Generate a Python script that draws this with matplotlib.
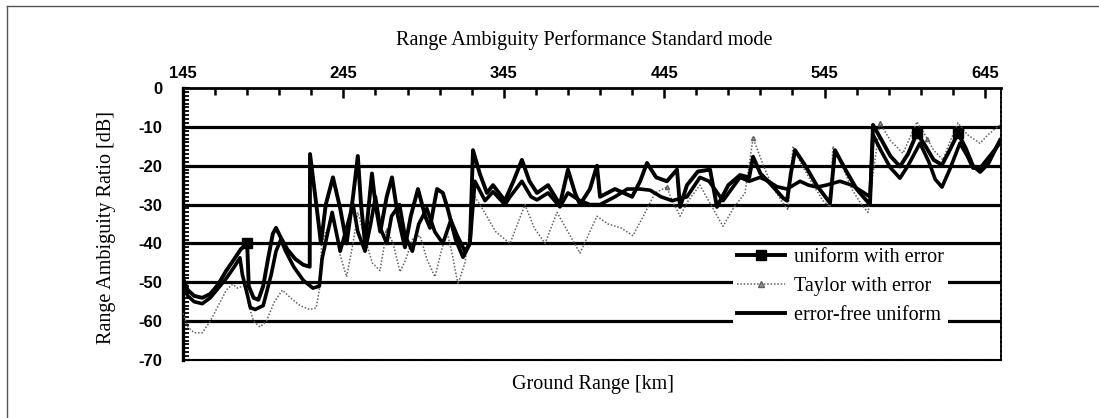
import matplotlib
matplotlib.use("Agg")
import matplotlib.pyplot as plt
from matplotlib.lines import Line2D
from matplotlib.patches import Rectangle
import numpy as np

# ground range [km] / range ambiguity ratio [dB]
ue_km = [145, 148, 152, 157, 162, 167, 172, 177, 181, 185,
         186, 189, 192, 195, 198, 201, 203, 206, 210, 215, 220, 224,
         224.2, 229, 231, 234, 238.5, 243, 247, 251, 254, 256, 258.5, 262.8, 265, 268,
         272, 275.3, 279, 283.4, 287, 291.5, 296, 299, 302, 303.4, 307, 310, 315, 319.6, 323.9,
         325.8, 330, 334.5, 338.3, 345.7, 351, 356.3, 361, 365.7, 372.6, 380, 385, 389.4,
         392.5, 398.7, 403.1, 405, 414.3, 425, 430, 434.3, 440, 446.7, 453, 454.9, 459.2,
         466, 473.6, 477.9, 485, 492.3, 498,
         500.4, 505, 512, 519.1, 521.6, 524, 526.6, 533, 540, 548.4, 551.5, 558, 565, 573.3,
         575.2, 580, 586, 592, 597, 602.6, 608, 613, 618.2, 623, 628.2, 633, 637.5, 642, 647, 654.4]
ue_db = [-49, -52, -53.5, -54, -53, -50.5, -47, -44, -41.5, -40,
         -51, -54, -54.5, -51, -44, -37.5, -36, -38.5, -41.5, -44, -45.5, -46,
         -17, -33, -40, -30, -23, -31, -40, -28, -17.5, -30, -40, -22, -30, -37,
         -28, -23, -33, -41, -33, -26, -33, -36, -29, -26, -27, -31, -39, -43.5, -40,
         -16, -22, -27, -25, -29, -24, -18.5, -24, -27, -25, -30, -21, -27,
         -30, -26, -20, -28, -26, -28, -24, -19.3, -23, -24, -21, -30.6, -25,
         -21.5, -21, -30.6, -25, -22.4, -23,
         -17.7, -22, -25, -28.3, -29, -22, -16, -20, -25, -29.6, -16, -21, -26, -30,
         -9.5, -13, -17.5, -20.2, -17, -11.6, -15, -18.5, -19.8, -16, -11.6, -15.5, -20, -21.6, -19.5, -13.4]

tay_km = [145, 148, 152, 157, 162, 167, 172, 176, 179, 184,
          186, 189, 193, 197, 202, 207, 212, 218, 224, 228,
          230, 231.5, 234, 238.5, 243, 247, 251, 254, 258, 263, 267.8, 272.2, 276, 280.3,
          284, 288, 292.8, 297, 302.1, 306, 309.6, 313, 316.4, 320.8,
          327, 333, 340, 348.9, 358.2, 364, 370.7, 378.2, 385, 392.5, 403.1, 410, 418,
          425.5, 432, 439.3, 446.7, 450, 454.9, 460, 467.3, 474, 481.7, 488, 495.4,
          500.4, 506, 512, 518, 522.2, 525.3, 531, 538, 544, 548.4, 550.2, 556, 562, 568, 572.1,
          579.5, 586, 593.9, 598, 602.6, 609, 613, 618.8, 623, 628.2, 634, 641.9, 647, 654.4]
tay_db = [-58, -61.5, -63, -63, -60, -56, -52, -50.5, -51.5, -50.7,
          -56, -60, -61.5, -60, -55, -52, -54, -56, -57, -56.6,
          -52, -40, -37, -34, -43, -48.6, -40, -32, -38, -45, -47, -36.5, -40, -47.3,
          -44, -39, -38, -44, -48.6, -42, -37, -43, -50.5, -45,
          -28, -32, -37, -40, -30, -36, -40, -32, -37, -42.5, -33, -35, -36,
          -38, -33, -27, -25.5, -29, -33, -29, -25, -30, -35.6, -31, -27,
          -12.9, -19, -25, -29, -31.4, -15, -20, -25, -29, -30.6, -15, -20, -26, -30, -32,
          -9, -13.5, -16.8, -13, -8.7, -13, -16, -18.5, -14, -9, -12, -14.2, -12, -9.5]

ef_km = [145, 148, 152, 157, 162, 167, 172, 177, 180.5,
         182, 185, 187, 190, 195, 200, 203, 206, 209, 214, 220, 226, 230,
         231.7, 234.8, 238, 243, 247, 251, 254, 258.5, 262, 265, 268, 272, 275, 280,
         283.4, 288, 292, 297, 302, 307, 312, 316, 320.8, 323.9,
         327, 333.3, 338.3, 345.7, 348.9, 356.3, 362, 365.7, 372.6, 380, 385, 392.5, 398.7,
         405, 414.3, 422, 429.9, 436.2, 443, 450, 459.2, 467.3, 473, 481.7, 487, 492.3, 498,
         504.7, 510, 515.3, 521.6, 529.7, 535, 540.3, 546, 554.6, 562, 568.9, 573.3,
         575.2, 580, 586, 592, 597, 604.5, 610, 614, 618.2, 623, 629.4, 634, 637.5, 642, 647, 654.4]
ef_db = [-51, -53.5, -55, -55.5, -54, -51.5, -49, -46, -43.7,
         -48, -53, -56.5, -57, -56, -48, -42, -39, -42, -46, -49.5, -51.5, -51,
         -44, -38, -32, -42, -36, -30, -37, -42, -35, -28, -36, -40, -33, -30,
         -38, -42, -35, -31, -37, -40, -34, -38, -42, -40,
         -24, -29, -26.7, -30, -28, -24, -28, -28.8, -27, -30.6, -27, -29, -30,
         -30, -28, -26, -26, -26.3, -28, -29, -28, -23, -24, -29, -26, -23, -24,
         -23, -24, -25.4, -26, -24, -25, -25.5, -25, -24, -25, -26.8, -28,
         -12, -16, -20.5, -23.2, -20, -14.2, -19, -23.5, -25.5, -21, -14.2, -17.5, -20.6, -20.6, -18, -14.2]

x_major = [145, 245, 345, 445, 545, 645]
y_ticks = [0, -10, -20, -30, -40, -50, -60, -70]
grid_db = [-10, -20, -30, -40, -50, -60]

plt.rcParams['font.family'] = ['Liberation Serif', 'DejaVu Serif']
plt.rcParams['axes.unicode_minus'] = False

W, H = 1099, 418
fig = plt.figure(figsize=(W / 100, H / 100), dpi=100)
ax = fig.add_axes([183 / W, 1 - 360 / H, (1001 - 183) / W, (360 - 88) / H])

# thick black grid lines
for g in grid_db:
    ax.axhline(g, color='black', lw=2.3, zorder=1)

# white patch behind the legend hides the grid there
ax.add_patch(Rectangle((0.672, 0.125), 0.263, 0.292, transform=ax.transAxes,
                       facecolor='white', edgecolor='none', zorder=2))

ax.plot(tay_km, tay_db, color='#606060', lw=1.1, ls=(0, (1, 1.2)),
        marker='^', markersize=3, markevery=[9, 31, 60, 69, 84, 89],
        mfc='#999999', mec='#606060', zorder=3)
ax.plot(ef_km, ef_db, color='black', lw=2.6, zorder=4)
ax.plot(ue_km, ue_db, color='black', lw=2.8, marker='s', markersize=7,
        markevery=[9, 102, 107], zorder=5)

ax.set_xlim(145, 655)
ax.set_ylim(-70, 0)

ax.xaxis.tick_top()
ax.set_xticks(x_major)
ax.set_xticks([v for v in range(145, 656, 20) if v not in x_major], minor=True)
ax.set_yticks(y_ticks)
ax.set_yticks(np.arange(-70, 1, 1), minor=True)
ax.tick_params(axis='x', which='major', direction='in', length=7, width=1.8, pad=5)
ax.tick_params(axis='x', which='minor', direction='in', length=5, width=1.8)
ax.tick_params(axis='y', which='major', direction='in', length=5, width=1.5, pad=15)
ax.tick_params(axis='y', which='minor', direction='in', length=4, width=1.3)
for lab in ax.get_xticklabels() + ax.get_yticklabels():
    lab.set_fontfamily('Liberation Sans')
    lab.set_fontweight('bold')
    lab.set_fontsize(12)

ax.spines['top'].set_linewidth(2.0)
ax.spines['left'].set_linewidth(2.4)
ax.spines['bottom'].set_linewidth(1.5)
ax.spines['bottom'].set_linestyle((0, (2, 0.6)))
ax.spines['right'].set_linewidth(1.3)
ax.spines['right'].set_linestyle((0, (2, 0.6)))

fig.text(584 / W, 1 - 40 / H, 'Range Ambiguity Performance Standard mode',
         ha='center', va='center', fontsize=14.5)
fig.text(593 / W, 1 - 384 / H, 'Ground Range [km]', ha='center', va='center', fontsize=14.5)
fig.text(106 / W, 1 - 227 / H, 'Range Ambiguity Ratio [dB]', ha='center', va='center',
         rotation=90, fontsize=14.5)

handles = [
    Line2D([], [], color='black', lw=2.8, marker='s', markersize=7),
    Line2D([], [], color='#606060', lw=1.1, ls=(0, (1, 1.2)), marker='^', markersize=4,
           mfc='#999999', mec='#606060'),
    Line2D([], [], color='black', lw=2.8),
]
ax.legend(handles, ['uniform with error', 'Taylor with error', 'error-free uniform'],
          loc='center left', bbox_to_anchor=(0.672, 0.27), frameon=False,
          fontsize=14.5, handlelength=2.4, handletextpad=0.45, labelspacing=0.5,
          borderpad=0.2, borderaxespad=0)

# partial outer frame of the scanned page
fig.add_artist(Line2D([7 / W, 1], [1 - 6 / H, 1 - 6 / H], color='#555555', lw=1.0))
fig.add_artist(Line2D([7 / W, 7 / W], [0, 1 - 6 / H], color='#555555', lw=1.0))

fig.savefig('out.png', dpi=100)
